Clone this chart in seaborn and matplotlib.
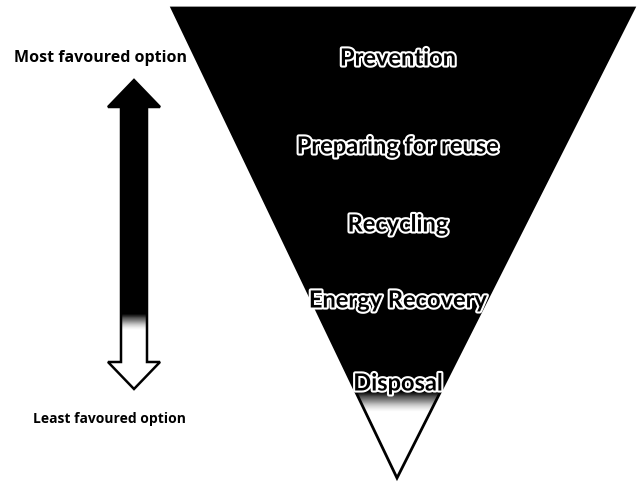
import numpy as np
import matplotlib.pyplot as plt
import matplotlib.patheffects as pe
from matplotlib.patches import Polygon
import seaborn as sns

# levels of the waste hierarchy, top (most favoured) to bottom
levels = ['Prevention', 'Preparing for reuse', 'Recycling', 'Energy Recovery', 'Disposal']
level_y = [58, 146, 224, 300, 383]
side_labels = ['Most favoured option', 'Least favoured option']

sns.set_style("white")
plt.rcParams['font.family'] = ['Lato', 'DejaVu Sans']

fig = plt.figure(figsize=(6.4, 4.82), dpi=100)
ax = fig.add_axes([0, 0, 1, 1])
ax.set_xlim(0, 640)
ax.set_ylim(482, 0)
ax.axis('off')

# vertical dark-to-white shading used for both shapes
def shade(ax, poly, y0, y1, fade_start, fade_end):
    yy = np.linspace(y0, y1, 400)
    v = np.clip((fade_end - yy) / (fade_end - fade_start), 0, 1)
    img = np.tile(v[:, None], (1, 2))
    im = ax.imshow(img, cmap='Greys', vmin=0, vmax=1, aspect='auto',
                   extent=[0, 640, y1, y0], zorder=1, interpolation='bilinear')
    im.set_clip_path(poly)

# inverted triangle
tri = Polygon([[172, 8], [634, 8], [397, 478]], closed=True,
              facecolor='none', edgecolor='black', lw=2, zorder=2)
ax.add_patch(tri)
shade(ax, tri, 8, 478, 392, 412)

# double headed arrow
arrow = Polygon([[134, 80], [160, 107], [147, 107], [147, 362], [160, 362],
                 [134, 389], [108, 362], [121, 362], [121, 107], [108, 107]],
                closed=True, facecolor='none', edgecolor='black', lw=1.8, zorder=2)
ax.add_patch(arrow)
shade(ax, arrow, 80, 389, 314, 330)

for lab, y in zip(levels, level_y):
    ax.text(398, y, lab, ha='center', va='center', fontsize=17, fontweight='bold',
            color='black', zorder=3,
            path_effects=[pe.withStroke(linewidth=3, foreground='white')])

ax.text(187, 58, side_labels[0], ha='right', va='center', fontsize=11.5,
        fontweight='bold', color='black', family=['Open Sans', 'DejaVu Sans'])
ax.text(109, 419, side_labels[1], ha='center', va='center', fontsize=10,
        fontweight='bold', color='black', family=['Open Sans', 'DejaVu Sans'])

plt.savefig('out.png', dpi=100)
